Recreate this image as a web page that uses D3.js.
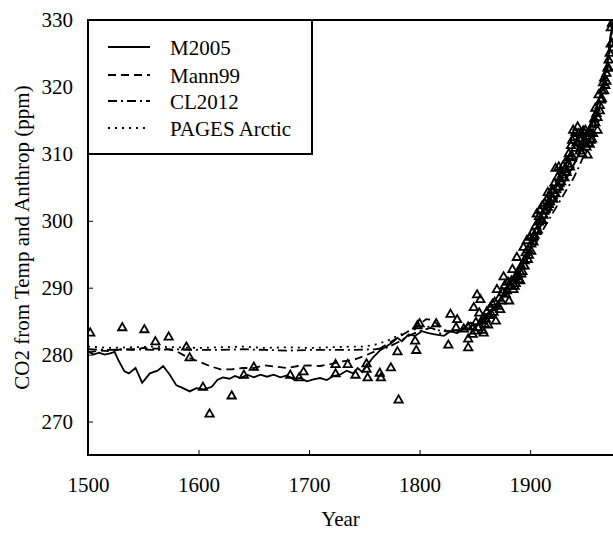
<!DOCTYPE html>
<html>
<head>
<meta charset="utf-8">
<script src="https://cdn.jsdelivr.net/npm/d3@7"></script>
<style>
  body { margin: 0; background: #fff; }
  svg text { font-family: "Liberation Serif", "DejaVu Serif", serif !important; fill: #000; }
</style>
</head>
<body>
<svg id="chart" width="613" height="533"></svg>
<script>
// ---- data ----
const xTicks = [1500, 1600, 1700, 1800, 1900];
const yTicks = [270, 280, 290, 300, 310, 320, 330];

const m2005 = [
  [1500, 280.5], [1505, 280.0], [1510, 280.3], [1515, 280.0], [1520, 280.2], [1524, 280.4],
  [1528, 279.0], [1533, 277.5], [1537, 277.2], [1543, 278.0], [1549, 275.8], [1556, 277.2],
  [1563, 277.6], [1568, 278.3], [1574, 277.0], [1580, 275.4], [1586, 275.0], [1592, 274.5],
  [1598, 275.0], [1605, 274.8], [1612, 275.2], [1617, 276.2], [1622, 276.6], [1628, 276.4],
  [1633, 276.8], [1638, 276.5], [1644, 277.0], [1650, 276.6], [1656, 277.0], [1662, 276.7],
  [1668, 277.0], [1674, 276.6], [1680, 276.9], [1686, 276.3], [1692, 276.5], [1698, 276.0],
  [1704, 276.3], [1710, 276.5], [1716, 276.2], [1722, 276.8], [1728, 277.0], [1734, 277.6],
  [1740, 277.2], [1744, 278.0], [1748, 277.4], [1753, 278.5], [1758, 279.6], [1764, 280.6],
  [1770, 281.2], [1776, 281.9], [1780, 282.5], [1784, 282.0], [1790, 283.0], [1796, 282.8],
  [1802, 283.5], [1808, 283.2], [1815, 283.0], [1822, 282.8], [1828, 283.5], [1834, 283.2],
  [1840, 284.0], [1846, 284.8], [1852, 284.3], [1858, 285.5], [1864, 286.5], [1870, 287.5],
  [1876, 289.0], [1882, 290.5], [1888, 292.5], [1894, 294.5], [1900, 296.0], [1906, 298.0],
  [1912, 300.0], [1920, 302.5], [1930, 305.5], [1940, 308.5], [1948, 311.5], [1955, 314.5],
  [1960, 316.8], [1965, 319.5], [1970, 323.5], [1973, 327.5], [1976, 332.0]
];

const mann99 = [
  [1500, 280.3], [1510, 280.6], [1520, 280.5], [1530, 280.8], [1540, 280.7], [1550, 281.0],
  [1560, 280.9], [1570, 280.9], [1580, 280.5], [1590, 279.6], [1600, 279.0], [1610, 278.3],
  [1620, 277.8], [1630, 277.8], [1640, 278.0], [1650, 278.0], [1660, 278.4], [1670, 278.2],
  [1680, 278.0], [1690, 278.3], [1700, 278.4], [1710, 278.3], [1720, 278.6], [1730, 279.0],
  [1740, 279.2], [1750, 279.8], [1760, 280.5], [1770, 281.5], [1780, 282.5], [1790, 283.5],
  [1800, 284.5], [1806, 285.3], [1812, 285.2], [1818, 284.2], [1825, 283.5], [1832, 283.3],
  [1840, 283.8], [1850, 284.5], [1860, 285.8], [1870, 287.6], [1880, 290.2], [1890, 293.0],
  [1900, 296.0], [1910, 299.4], [1920, 302.4], [1930, 305.4], [1940, 308.6], [1950, 312.4],
  [1960, 317.0], [1965, 320.0], [1970, 324.0], [1976, 332.0]
];

const cl2012 = [
  [1500, 280.8], [1520, 280.7], [1540, 280.8], [1560, 280.7], [1580, 280.8], [1600, 280.7],
  [1620, 280.7], [1640, 280.8], [1660, 280.7], [1680, 280.6], [1700, 280.7], [1720, 280.7],
  [1740, 280.7], [1760, 280.8], [1770, 281.0], [1780, 281.8], [1790, 282.8], [1800, 283.5],
  [1810, 284.0], [1820, 283.5], [1830, 283.5], [1840, 283.8], [1850, 284.0], [1860, 285.2],
  [1870, 287.0], [1880, 289.4], [1890, 292.0], [1900, 295.0], [1910, 298.2], [1920, 301.0],
  [1930, 303.8], [1940, 306.6], [1950, 310.2], [1960, 315.0], [1965, 318.5], [1970, 322.5],
  [1976, 331.0]
];

const pagesArctic = [
  [1500, 281.2], [1520, 281.0], [1540, 281.1], [1560, 281.2], [1580, 281.1], [1600, 281.0],
  [1620, 281.1], [1640, 281.2], [1660, 281.0], [1680, 281.1], [1700, 281.0], [1720, 281.1],
  [1740, 281.2], [1750, 281.2], [1760, 281.5], [1770, 282.0], [1780, 282.8], [1790, 283.5],
  [1800, 284.0], [1810, 284.2], [1820, 283.0], [1830, 283.4], [1840, 283.8], [1850, 284.4],
  [1860, 285.6], [1870, 287.4], [1880, 290.0], [1890, 292.8], [1900, 295.8], [1910, 299.0],
  [1920, 302.0], [1930, 305.0], [1940, 308.2], [1950, 312.0], [1960, 316.6], [1965, 319.6],
  [1970, 323.5], [1976, 332.0]
];

// triangles
const obsEarly = [
  [1502, 283.2], [1531, 284.0], [1551, 283.7], [1561, 281.9], [1573, 282.6], [1589, 281.1],
  [1592, 279.5], [1604, 275.1], [1610, 271.1], [1630, 273.8], [1641, 276.9], [1650, 278.1],
  [1683, 276.9], [1691, 276.5], [1695, 277.4], [1724, 278.5], [1724, 277.1], [1735, 278.5],
  [1742, 276.9], [1752, 278.6], [1752, 277.8], [1753, 276.5], [1764, 277.2], [1765, 276.5],
  [1774, 278.0], [1781, 273.2], [1780, 280.4], [1797, 280.6], [1796, 282.0], [1800, 284.6],
  [1798, 284.3], [1815, 284.6], [1826, 281.4], [1828, 286.0], [1834, 285.2], [1833, 284.0],
  [1840, 283.8], [1844, 284.1], [1844, 282.3], [1844, 281.0], [1848, 283.0], [1849, 287.0]
];

const obsAnnual = [
  [1850, 283.5], [1851, 284.8], [1852, 288.9], [1853, 284.0], [1854, 286.2], [1855, 288.2],
  [1856, 285.0], [1857, 283.6], [1858, 283.2], [1859, 284.5], [1860, 285.3], [1861, 286.4],
  [1862, 284.4], [1863, 285.8], [1864, 287.0], [1865, 286.0], [1866, 287.5], [1867, 286.3],
  [1868, 287.8], [1869, 285.0], [1870, 289.7], [1871, 287.2], [1872, 288.4], [1873, 286.7],
  [1874, 288.0], [1875, 289.2], [1876, 291.6], [1877, 290.3], [1878, 289.0], [1879, 289.5],
  [1880, 290.8], [1881, 288.0], [1882, 290.2], [1883, 291.0], [1884, 292.7], [1885, 289.7],
  [1886, 291.4], [1887, 290.6], [1888, 294.5], [1889, 292.0], [1890, 291.2], [1891, 291.0],
  [1892, 293.2], [1893, 292.4], [1894, 296.0], [1895, 294.0], [1896, 295.2], [1897, 297.0],
  [1898, 295.6], [1899, 294.8], [1900, 297.5], [1901, 296.5], [1902, 298.2], [1903, 296.8],
  [1904, 297.8], [1905, 299.2], [1906, 301.0], [1907, 298.6], [1908, 299.8], [1909, 301.5],
  [1910, 300.2], [1911, 302.2], [1912, 300.8], [1913, 302.6], [1914, 301.6], [1915, 303.0],
  [1916, 304.2], [1917, 302.4], [1918, 304.0], [1919, 303.4], [1920, 304.6], [1921, 304.5],
  [1922, 305.6], [1923, 307.8], [1924, 305.0], [1925, 306.5], [1926, 308.0], [1927, 306.2],
  [1928, 307.4], [1929, 306.8], [1930, 308.2], [1931, 307.6], [1932, 307.8], [1933, 309.0],
  [1934, 308.4], [1935, 310.0], [1936, 309.4], [1937, 311.2], [1938, 312.0], [1939, 313.5],
  [1940, 312.4], [1941, 313.2], [1942, 311.6], [1943, 314.0], [1944, 313.0], [1945, 312.2],
  [1946, 311.0], [1947, 312.8], [1948, 313.4], [1949, 311.8], [1950, 313.5], [1951, 312.6],
  [1952, 309.8], [1953, 313.2], [1954, 311.4], [1955, 313.0], [1956, 312.2], [1957, 314.4],
  [1958, 315.2], [1959, 316.8], [1960, 316.0], [1961, 313.5], [1962, 318.8], [1963, 317.2],
  [1964, 318.0], [1965, 319.4], [1966, 320.6], [1967, 321.3], [1968, 320.2], [1969, 322.0],
  [1970, 322.8], [1971, 322.8], [1972, 325.0], [1973, 328.8], [1974, 326.5], [1975, 325.8]
];

const obsExtra = [
  [1886, 290.2], [1889, 291.6], [1892, 292.0], [1895, 293.2], [1898, 294.2], [1901, 295.4],
  [1903, 297.6], [1906, 298.4], [1908, 300.6], [1911, 300.0], [1913, 301.4], [1916, 302.0],
  [1918, 302.8], [1921, 303.2], [1923, 304.0], [1926, 305.0], [1928, 305.8], [1931, 306.4],
  [1933, 307.2], [1936, 308.0], [1938, 309.6], [1941, 310.8], [1943, 311.8], [1945, 310.4],
  [1947, 310.0], [1949, 313.0], [1951, 311.0], [1953, 311.6], [1955, 312.0], [1957, 313.0],
  [1959, 314.6], [1961, 315.4], [1963, 316.4], [1965, 318.2], [1967, 319.4], [1969, 320.8],
  [1971, 324.0], [1973, 326.4], [1974, 329.5]
];

const seriesNames = ['M2005', 'Mann99', 'CL2012', 'PAGES Arctic'];
const seriesData = [m2005, mann99, cl2012, pagesArctic];
const seriesDash = [null, '8,5', '9,4,2,4', '2,5'];

// ---- layout ----
const svg = d3.select('#chart');
const mLeft = 88, mRight = 613, mTop = 20, mBottom = 455;
const serif = '"Liberation Serif", "DejaVu Serif", serif';

const x = d3.scaleLinear().domain([1500, 1975]).range([mLeft, mRight]);
const y = d3.scaleLinear().domain([265, 330]).range([mBottom, mTop]);

svg.append('defs').append('clipPath').attr('id', 'plot')
  .append('rect').attr('x', mLeft).attr('y', mTop).attr('width', mRight - mLeft).attr('height', mBottom - mTop);

const line = d3.line().x(d => x(d[0])).y(d => y(d[1]));

const plot = svg.append('g').attr('clip-path', 'url(#plot)');

plot.selectAll('path.series')
  .data(seriesData)
  .join('path')
  .attr('class', 'series')
  .attr('d', line)
  .attr('fill', 'none')
  .attr('stroke', '#000')
  .attr('stroke-width', 1.8)
  .attr('stroke-dasharray', (d, i) => seriesDash[i]);

const tri = d3.symbol(d3.symbolTriangle, 30);
plot.selectAll('path.obs')
  .data(obsEarly.concat(obsAnnual, obsExtra))
  .join('path')
  .attr('class', 'obs')
  .attr('transform', d => `translate(${x(d[0])},${y(d[1])})`)
  .attr('d', tri)
  .attr('fill', 'none')
  .attr('stroke', '#000')
  .attr('stroke-width', 1.8);

// axes
const xAxis = svg.append('g').attr('transform', `translate(0,${mBottom})`)
  .call(d3.axisBottom(x).tickValues(xTicks).tickSize(-5).tickPadding(22).tickFormat(d3.format('d')));
const yAxis = svg.append('g').attr('transform', `translate(${mLeft},0)`)
  .call(d3.axisLeft(y).tickValues(yTicks).tickSize(-5).tickPadding(15));
[xAxis, yAxis].forEach(a => {
  a.attr('font-family', null).attr('font-size', null);
  a.select('.domain').remove();
  a.selectAll('.tick line').attr('stroke', '#000').attr('stroke-width', 1);
  a.selectAll('.tick text').style('font-family', serif).style('font-size', '21px');
});

// frame lines
svg.append('path')
  .attr('d', `M${mRight},${mTop}H${mLeft}V${mBottom}H${mRight}`)
  .attr('fill', 'none').attr('stroke', '#000').attr('stroke-width', 2);

// titles
svg.append('text').attr('x', (mLeft + mRight) / 2 - 10).attr('y', 526)
  .attr('text-anchor', 'middle').style('font-size', '21px').text('Year');
svg.append('text')
  .attr('transform', `translate(29,${(mTop + mBottom) / 2}) rotate(-90)`)
  .attr('text-anchor', 'middle').style('font-size', '21px')
  .text('CO2 from Temp and Anthrop (ppm)');

// legend
const legend = svg.append('g');
legend.append('rect').attr('x', mLeft).attr('y', mTop).attr('width', 224).attr('height', 134)
  .attr('fill', '#fff').attr('stroke', '#000').attr('stroke-width', 2);
const rowY = [47, 75, 101, 128];
const items = legend.selectAll('g.item').data(seriesNames).join('g').attr('class', 'item')
  .attr('transform', (d, i) => `translate(0,${rowY[i]})`);
items.append('line').attr('x1', 108).attr('x2', 150)
  .attr('stroke', '#000').attr('stroke-width', 1.8)
  .attr('stroke-dasharray', (d, i) => seriesDash[i]);
items.append('text').attr('x', 170).attr('y', 8).style('font-size', '21px').text(d => d);
</script>
</body>
</html>
